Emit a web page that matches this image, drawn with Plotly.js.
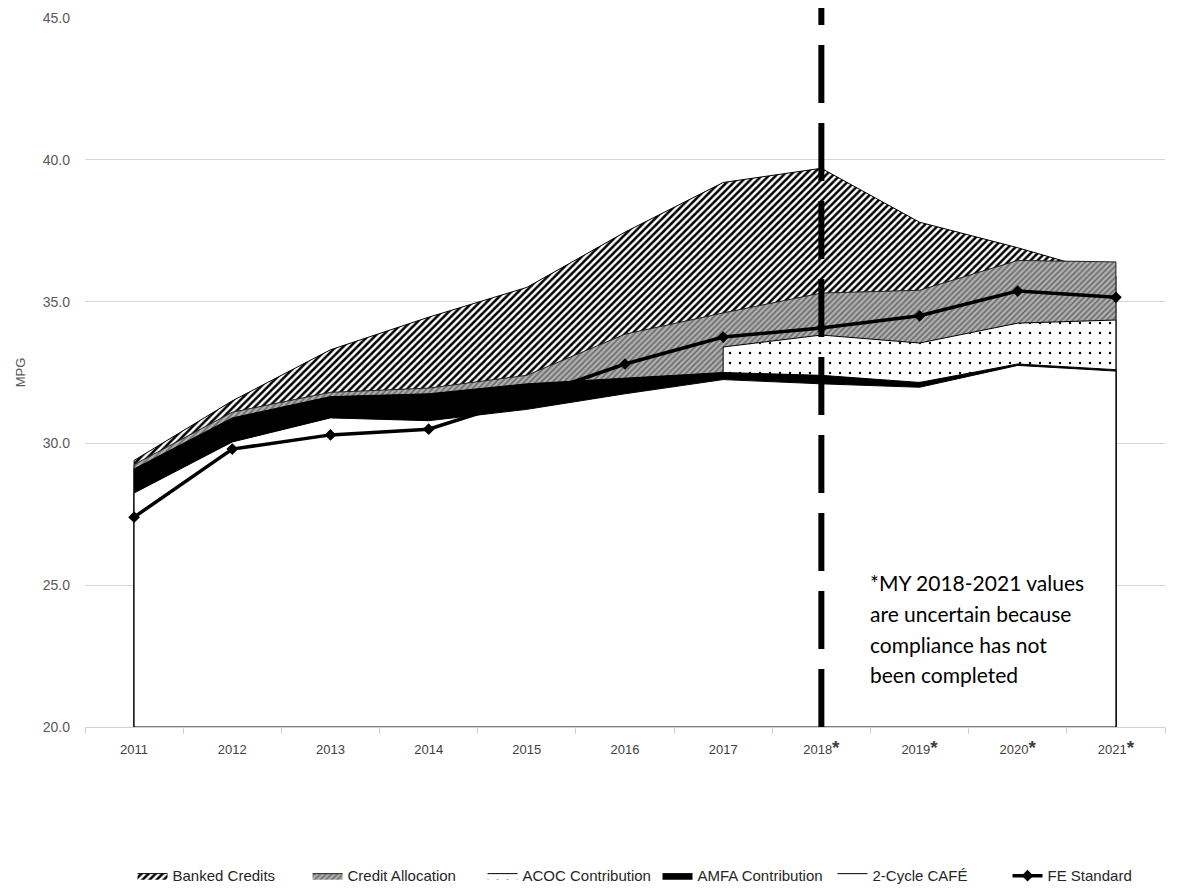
<!DOCTYPE html>
<html>
<head>
<meta charset="utf-8">
<script src="https://cdn.plot.ly/plotly-3.0.1.min.js"></script>
<style>html,body{margin:0;padding:0;background:#fff;}#chart{width:1193px;height:892px;}</style>
</head>
<body>
<div id="chart"></div>
<script>
// ---- data ----
const years = ['2011','2012','2013','2014','2015','2016','2017','2018','2019','2020','2021'];
const tickLabels = ['2011','2012','2013','2014','2015','2016','2017','2018*','2019*','2020*','2021*'];
const twoCycleCafe = [28.25, 30.05, 30.9, 30.8, 31.2, 31.75, 32.25, 32.1, 31.98, 32.75, 32.55];
const amfaContribution = [0.85, 0.85, 0.75, 0.95, 0.9, 0.55, 0.25, 0.3, 0.17, 0.05, 0.05];
const acocContribution = [null, null, null, null, null, null, 0.9, 1.42, 1.39, 1.44, 1.75];
const creditAllocation = [0.15, 0.2, 0.15, 0.2, 0.3, 1.55, 1.2, 1.48, 1.86, 2.21, 2.05];
const bankedCredits = [0.15, 0.4, 1.5, 2.5, 3.1, 3.6, 4.6, 4.4, 2.4, 0.45, -0.5];
const feStandard = [27.4, 29.8, 30.3, 30.5, 31.6, 32.8, 33.75, 34.07, 34.5, 35.37, 35.15];
const yMin = 20, yMax = 45;
const markerYear = '2018';
const noteLines = ['*MY 2018-2021 values', 'are uncertain because', 'compliance has not', 'been completed'];

// ---- stacking ----
const amfaTop = twoCycleCafe.map((v, i) => v + amfaContribution[i]);
const acocTop = amfaTop.map((v, i) => acocContribution[i] == null ? null : v + acocContribution[i]);
const creditTop = amfaTop.map((v, i) => (acocTop[i] == null ? v : acocTop[i]) + creditAllocation[i]);
const bankedTop = creditTop.map((v, i) => v + bankedCredits[i]);

// closed polygon from a top boundary down to the axis floor
function poly(tops) {
  const xs = [], ys = [];
  tops.forEach((v, i) => { if (v != null) { xs.push(years[i]); ys.push(v); } });
  const first = xs[0], last = xs[xs.length - 1];
  return { x: xs.concat([last, first, first]), y: ys.concat([yMin, yMin, ys[0]]) };
}

const legFont = 'Liberation Sans, Arial, sans-serif';
const outline = { color: '#000', width: 1 };

const traces = [];
let p = poly(bankedTop);
traces.push({ x: p.x, y: p.y, name: 'Banked Credits', type: 'scatter', mode: 'lines', fill: 'toself',
  fillcolor: '#fff', fillpattern: { shape: '/', bgcolor: '#fff', fgcolor: '#000', size: 5, solidity: 0.5 },
  line: outline, hoverinfo: 'skip' });
p = poly(creditTop);
traces.push({ x: p.x, y: p.y, name: 'Credit Allocation', type: 'scatter', mode: 'lines', fill: 'toself',
  fillcolor: '#b3b3b3', fillpattern: { shape: '/', bgcolor: '#b0b0b0', fgcolor: '#6a6a6a', size: 4, solidity: 0.4 },
  line: { color: '#222', width: 1 }, hoverinfo: 'skip' });
p = poly(acocTop);
traces.push({ x: p.x, y: p.y, name: 'ACOC Contribution', type: 'scatter', mode: 'lines', fill: 'toself',
  fillcolor: '#fff', fillpattern: { shape: '.', bgcolor: '#fff', fgcolor: '#000', size: 10, solidity: 0.05 },
  line: outline, hoverinfo: 'skip' });
p = poly(amfaTop);
traces.push({ x: p.x, y: p.y, name: 'AMFA Contribution', type: 'scatter', mode: 'lines', fill: 'toself',
  fillcolor: '#000', line: outline, hoverinfo: 'skip' });
p = poly(twoCycleCafe);
traces.push({ x: p.x, y: p.y, name: '2-Cycle CAFÉ', type: 'scatter', mode: 'lines', fill: 'toself',
  fillcolor: '#fff', line: outline, hoverinfo: 'skip' });
traces.push({ x: years, y: feStandard, name: 'FE Standard', type: 'scatter', mode: 'lines+markers',
  line: { color: '#000', width: 3.5 }, marker: { symbol: 'diamond', size: 9, color: '#000' }, hoverinfo: 'skip' });

const ticktext = tickLabels.map(t => t.endsWith('*')
  ? t.slice(0, -1) + '<span style="font-size:19px"><b>*</b></span>' : t);

const annotations = noteLines.map((t, i) => ({
  text: t, xref: 'paper', yref: 'paper', x: 0.725, xanchor: 'left',
  y: 0.224 - i * 0.0433, yanchor: 'top', showarrow: false,
  font: { family: 'Lato, Open Sans, sans-serif', size: 21, color: '#000' }
}));

const mIdx = years.indexOf(markerYear);

const layout = {
  width: 1193, height: 892,
  margin: { l: 85, r: 28, t: 18, b: 165, autoexpand: false },
  paper_bgcolor: '#fff', plot_bgcolor: '#fff',
  showlegend: true,
  legend: { orientation: 'h', x: 0.044, xanchor: 'left', y: -0.21, yanchor: 'middle',
    font: { family: legFont, size: 15, color: '#262626' }, traceorder: 'normal', itemwidth: 30,
    entrywidth: 130, entrywidthmode: 'pixels' },
  xaxis: { type: 'category', categoryarray: years, categoryorder: 'array', range: [-0.5, 10.5],
    tickmode: 'array', tickvals: years, ticktext: ticktext, tickson: 'boundaries',
    ticks: 'outside', ticklen: 6, tickcolor: '#d0d0d0', showline: true, linecolor: '#d0d0d0', linewidth: 1,
    showgrid: false, ticklabelstandoff: 10,
    tickfont: { family: legFont, size: 13, color: '#404040' }, fixedrange: true },
  yaxis: { range: [yMin, yMax], dtick: 5, tickformat: '.1f', showgrid: true, gridcolor: '#d6d6d6', gridwidth: 1,
    zeroline: false, showline: false, ticks: '', ticklabelstandoff: 14,
    tickfont: { family: legFont, size: 14, color: '#595959' },
    title: { text: 'MPG', font: { family: legFont, size: 13, color: '#595959' }, standoff: 14 },
    fixedrange: true },
  shapes: [{ type: 'line', xref: 'x', yref: 'paper', x0: mIdx, x1: mIdx, y0: 0, y1: 1.014,
    line: { color: '#000', width: 6, dash: '58px,20px' }, layer: 'above' }],
  annotations: annotations
};

Plotly.newPlot('chart', traces, layout, { staticPlot: true, displayModeBar: false });
</script>
</body>
</html>
